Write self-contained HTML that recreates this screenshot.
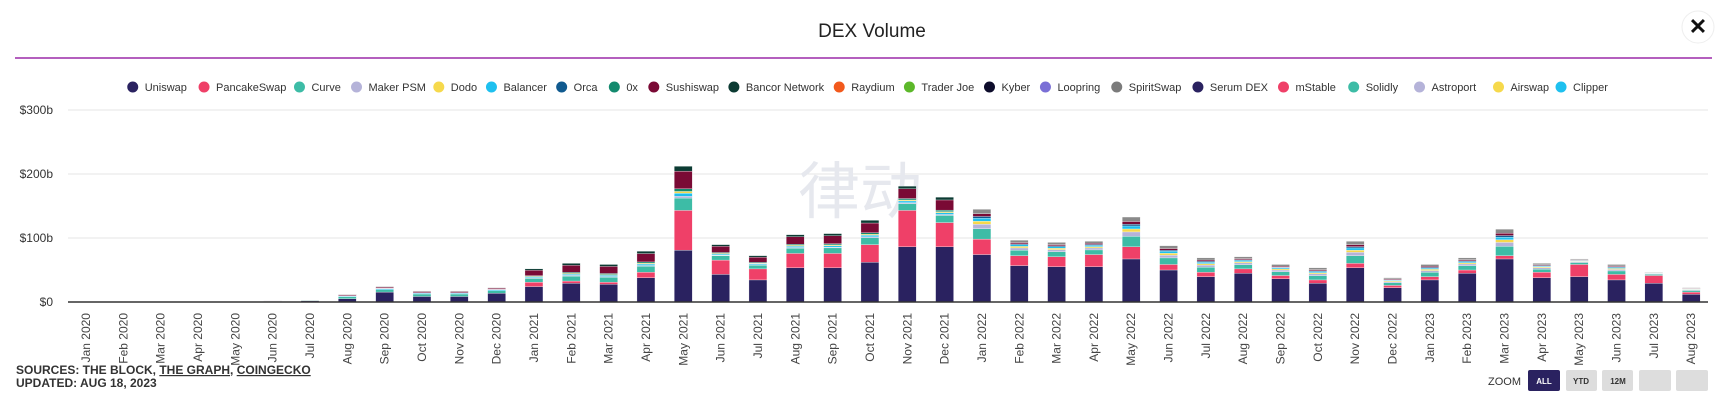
<!DOCTYPE html>
<html><head><meta charset="utf-8"><style>
html,body{margin:0;padding:0;background:#fff;}
body{width:1719px;height:401px;overflow:hidden;font-family:"Liberation Sans","Noto Sans CJK SC",sans-serif;}
</style></head><body>
<svg id="c" width="1719" height="401" xmlns="http://www.w3.org/2000/svg" font-family="Liberation Sans, Noto Sans CJK SC, sans-serif">
<text x="872" y="37" text-anchor="middle" font-size="19" fill="#222">DEX Volume</text>
<line x1="15" y1="58" x2="1712" y2="58" stroke="#9b2aa8" stroke-width="1.5"/>
<circle cx="1698" cy="27" r="16" fill="#fff" stroke="#eee"/>
<text x="1698" y="34" text-anchor="middle" font-size="22" font-weight="bold" fill="#111">✕</text>
<g stroke="#e6e6e6" stroke-width="1">
<line x1="68" y1="110" x2="1708" y2="110"/><line x1="68" y1="174" x2="1708" y2="174"/><line x1="68" y1="238" x2="1708" y2="238"/>
</g>
<g font-size="12" fill="#333" text-anchor="end">
<text x="53" y="114">$300b</text><text x="53" y="178">$200b</text><text x="53" y="242">$100b</text><text x="53" y="306">$0</text>
</g>
<text x="860" y="213" text-anchor="middle" font-size="62" fill="#e6e8ee" font-family="Noto Sans CJK SC, sans-serif">律动</text>
<g id="bars"></g>
<line x1="68" y1="302" x2="1708" y2="302" stroke="#333" stroke-width="1.5"/>
<g id="xl" font-size="12" fill="#444"></g>
<g id="leg" font-size="11" fill="#333"></g>
<text x="16" y="374" font-size="12" font-weight="bold" fill="#333">SOURCES: THE BLOCK, <tspan text-decoration="underline">THE GRAPH</tspan>, <tspan text-decoration="underline">COINGECKO</tspan></text>
<text x="16" y="387" font-size="12" font-weight="bold" fill="#333">UPDATED: AUG 18, 2023</text>
<text x="1488" y="385" font-size="11" fill="#333">ZOOM</text>
<rect x="1528" y="370" width="32" height="21" rx="2" fill="#2a2260"/>
<text x="1544" y="384" text-anchor="middle" font-size="8" font-weight="bold" fill="#fff">ALL</text>
<rect x="1566" y="370" width="31" height="21" rx="2" fill="#ddd"/>
<text x="1581" y="384" text-anchor="middle" font-size="8" font-weight="bold" fill="#333">YTD</text>
<rect x="1602" y="370" width="31" height="21" rx="2" fill="#ddd"/>
<text x="1618" y="384" text-anchor="middle" font-size="8" font-weight="bold" fill="#333">12M</text>
<rect x="1639" y="370" width="32" height="21" rx="2" fill="#ddd"/>
<rect x="1676" y="370" width="32" height="21" rx="2" fill="#ddd"/>
</svg>
<script>
var NS="http://www.w3.org/2000/svg";
function el(p,t,a,txt){var e=document.createElementNS(NS,t);for(var k in a)e.setAttribute(k,a[k]);if(txt)e.textContent=txt;p.appendChild(e);return e;}
var months=["Jan","Feb","Mar","Apr","May","Jun","Jul","Aug","Sep","Oct","Nov","Dec"];
var tot=[275,275,275,275,275,274,273,268,261,265,265,262,245,240,241,229,152,223,233,214,213,201,170,180,191,219,221,220,198,224,235,234,241,244,220,253,241,235,209,240,236,241,248,262];
var uni=[275,275,275,275,275,274.5,274,272,266,270,270,267,261,258,259,253,228,250,255,244,244,239,225,225,232,242,243,243,236,246,252,249,254,258,244,262,255,249,236,253,252,255,258,268];
var pk=[275,275,275,275,275,274.5,274,272,266,270,270,267,257,256,257,248,192,237,245,231,231,223,192,203,218,233,234,232,225,241,248,245,251,255,240,260,252,246,233,248,241,250,251,266];
var bars=document.getElementById("bars"),xl=document.getElementById("xl");
var C={uni:"#2a2260",pk:"#ef4068",cv:"#3dbca6",mk:"#b5b3d9",dd:"#f6d94c",bl:"#1ec0ef",orca:"#105a8f",zx:"#138a6e",su:"#7a0a35",bn:"#0c3b33",gr:"#8a8a8a"};
var s=64/58;
for(var i=0;i<44;i++){
  var cx=86+i*37.33,x=cx-9,w=18;
  var vt=(275-tot[i])*s,vu=(275-uni[i])*s,vp=(275-pk[i])*s;
  var segs=[["uni",vu],["pk",vp-vu]];
  var r=vt-vp;
  var mix=i<24?[["cv",.28],["mk",.04],["bl",.07],["dd",.04],["zx",.06],["su",.4],["bn",.11]]:[["cv",.35],["mk",.15],["dd",.1],["bl",.1],["orca",.06],["su",.09],["gr",.15]];
  if(i<12)mix=[["cv",.45],["bl",.15],["mk",.1],["su",.2],["gr",.1]];
  mix.forEach(function(m){segs.push([m[0],r*m[1]]);});
  var y=302;
  segs.forEach(function(sg){if(sg[1]<=0)return;y-=sg[1];el(bars,"rect",{x:x,y:y,width:w,height:sg[1],fill:C[sg[0]],stroke:"#fff","stroke-width":0.3});});
  var lbl=months[i%12]+" "+(2020+Math.floor(i/12));
  el(xl,"text",{x:0,y:0,transform:"translate("+(cx+4)+",313) rotate(-90)","text-anchor":"end"},lbl);
}
var leg=[["Uniswap","#2a2260"],["PancakeSwap","#ef4068"],["Curve","#3dbca6"],["Maker PSM","#b5b3d9"],["Dodo","#f6d94c"],["Balancer","#1ec0ef"],["Orca","#105a8f"],["0x","#138a6e"],["Sushiswap","#7a0a35"],["Bancor Network","#0c3b33"],["Raydium","#f2591c"],["Trader Joe","#5cb82a"],["Kyber","#0d0c2b"],["Loopring","#7a6fd6"],["SpiritSwap","#7b7b7b"],["Serum DEX","#2a2260"],["mStable","#ef4068"],["Solidly","#3dbca6"],["Astroport","#b5b3d9"],["Airswap","#f6d94c"],["Clipper","#1ec0ef"]];
var lx=[121,186,273,325,400,448,512,560,596,669,765,829,902,953,1018,1092,1170,1234,1294,1366,1423];
var g=document.getElementById("leg");
leg.forEach(function(l,j){var x=lx[j]*1.097;el(g,"circle",{cx:x,cy:87,r:5.5,fill:l[1]});
  var nx=j<20?lx[j+1]*1.097:x+80;var maxw=nx-x-24;
  var t=el(g,"text",{x:x+12,y:91},l[0]);
  try{if(t.getComputedTextLength()>maxw){t.setAttribute("textLength",maxw);t.setAttribute("lengthAdjust","spacingAndGlyphs");}}catch(e){}
});
</script>
</body></html>
